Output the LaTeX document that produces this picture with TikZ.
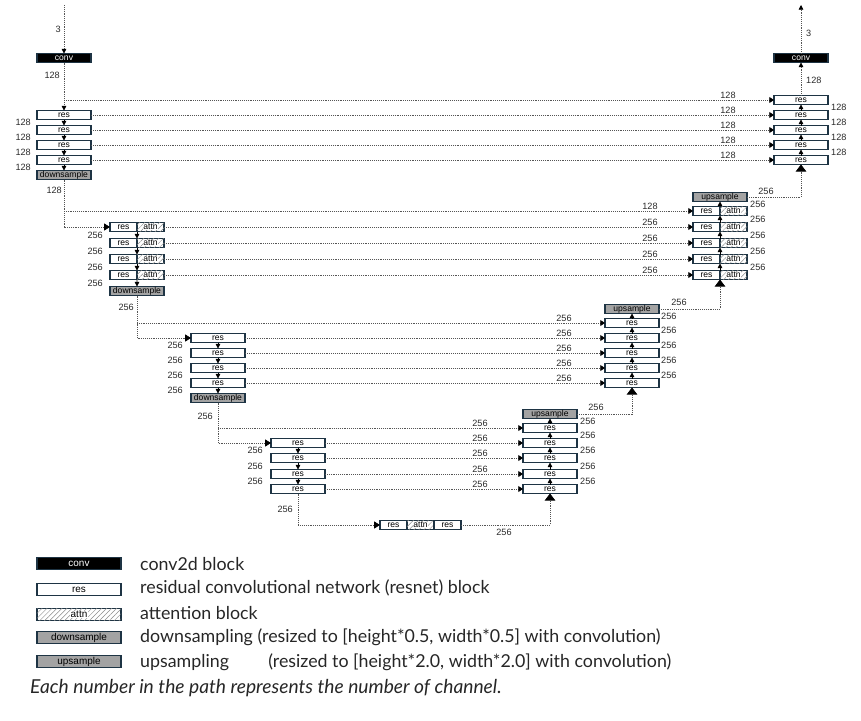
\documentclass[tikz,border=0pt]{standalone}
\usepackage{fontspec}
\setmainfont{Liberation Sans}
\newfontfamily\keyfont{Lato}
\usetikzlibrary{arrows.meta,positioning,patterns.meta}
\definecolor{UNetEdge}{HTML}{1E3444}
\definecolor{UNetLine}{HTML}{555555}
\definecolor{UNetGray}{HTML}{A3A3A3}
\definecolor{UNetHatch}{HTML}{8C8C8C}
\definecolor{UNetText}{HTML}{2A2A2A}
\newcommand{\hatched}[1]{{\setlength{\fboxsep}{0.4pt}\colorbox{white}{#1}}}
\tikzset{
  unetblk/.style={
    draw=UNetEdge,
    line width=1.1pt,
    inner sep=0pt,
    outer sep=0pt,
    minimum width=1.62cm,
    minimum height=0.27cm,
    font=\fontsize{7.3}{7}\selectfont
  },
  convblk/.style={unetblk,fill=black,text=white},
  resblk/.style={unetblk,fill=white},
  attnblk/.style={unetblk,fill=white,minimum width=0.81cm,
    postaction={pattern={Lines[angle=45,distance=3pt,line width=0.4pt]},pattern color=UNetHatch}},
  sampblk/.style={unetblk,fill=UNetGray},
  halfblk/.style={minimum width=0.81cm},
  keyblk/.style={minimum width=2.52cm,minimum height=0.36cm,font=\fontsize{8.5}{8.5}\selectfont},
  chan/.style={inner sep=0pt,font=\fontsize{7.8}{8}\selectfont,text=UNetText},
  keytext/.style={anchor=west,inner sep=0pt,font=\keyfont\fontsize{15.2}{17}\selectfont,text=black!85},
  flowlink/.style={densely dotted,draw=UNetLine,line width=0.6pt},
  smalltip/.style={-{Triangle[width=4pt,length=4pt,color=black]}},
  entrytip/.style={-{Triangle[width=6pt,length=5pt,color=black]}},
  skiplink/.style={flowlink,-{Triangle[width=5pt,length=4pt,color=black]}},
  bigtip/.style={flowlink,-{Triangle[width=9pt,length=6pt,color=black]}},
  stackflow/.style={-{Triangle[width=4pt,length=4pt]},draw=black,line width=0.6pt}
}

\begin{document}
\begin{tikzpicture}[x=0.03cm,y=-0.03cm]
  \useasboundingbox (0,0) rectangle (861,720);

  % encoder, level 1
  \coordinate (src) at (64,5);
  \node[convblk] (encconv) at (64,58) {conv};
  \node[resblk] (e1r1) at (64,115) {res};
  \node[resblk] (e1r2) at (64,130) {res};
  \node[resblk] (e1r3) at (64,145) {res};
  \node[resblk] (e1r4) at (64,160) {res};
  \node[sampblk] (e1down) at (64,175) {downsample};
  \coordinate (e1tap) at (64,100);

  % decoder, level 1
  \coordinate (dst) at (801,5);
  \node[convblk] (decconv) at (801,58) {conv};
  \node[resblk] (d1r0) at (801,100) {res};
  \node[resblk] (d1r1) at (801,115) {res};
  \node[resblk] (d1r2) at (801,130) {res};
  \node[resblk] (d1r3) at (801,145) {res};
  \node[resblk] (d1r4) at (801,160) {res};

  % encoder, level 2
  \node[resblk,halfblk] (e2r1) at (123.5,227) {res};
  \node[attnblk,right=0pt of e2r1] (e2a1) {\hatched{attn}};
  \node[resblk,halfblk] (e2r2) at (123.5,243) {res};
  \node[attnblk,right=0pt of e2r2] (e2a2) {\hatched{attn}};
  \node[resblk,halfblk] (e2r3) at (123.5,259) {res};
  \node[attnblk,right=0pt of e2r3] (e2a3) {\hatched{attn}};
  \node[resblk,halfblk] (e2r4) at (123.5,275) {res};
  \node[attnblk,right=0pt of e2r4] (e2a4) {\hatched{attn}};
  \node[sampblk] (e2down) at (137,291) {downsample};
  \coordinate (e2tap) at (64,211);

  % decoder, level 2
  \node[sampblk] (d2up) at (720,197) {upsample};
  \node[resblk,halfblk] (d2r0) at (706.5,211) {res};
  \node[attnblk,right=0pt of d2r0] (d2a0) {\hatched{attn}};
  \node[resblk,halfblk] (d2r1) at (706.5,227) {res};
  \node[attnblk,right=0pt of d2r1] (d2a1) {\hatched{attn}};
  \node[resblk,halfblk] (d2r2) at (706.5,243) {res};
  \node[attnblk,right=0pt of d2r2] (d2a2) {\hatched{attn}};
  \node[resblk,halfblk] (d2r3) at (706.5,259) {res};
  \node[attnblk,right=0pt of d2r3] (d2a3) {\hatched{attn}};
  \node[resblk,halfblk] (d2r4) at (706.5,275) {res};
  \node[attnblk,right=0pt of d2r4] (d2a4) {\hatched{attn}};

  % encoder, level 3
  \node[resblk] (e3r1) at (218,338) {res};
  \node[resblk] (e3r2) at (218,353) {res};
  \node[resblk] (e3r3) at (218,368) {res};
  \node[resblk] (e3r4) at (218,383) {res};
  \node[sampblk] (e3down) at (218,398) {downsample};
  \coordinate (e3tap) at (137,323);

  % decoder, level 3
  \node[sampblk] (d3up) at (632,309) {upsample};
  \node[resblk] (d3r0) at (632,323) {res};
  \node[resblk] (d3r1) at (632,338) {res};
  \node[resblk] (d3r2) at (632,353) {res};
  \node[resblk] (d3r3) at (632,368) {res};
  \node[resblk] (d3r4) at (632,383) {res};

  % encoder, level 4
  \node[resblk] (e4r1) at (298,443) {res};
  \node[resblk] (e4r2) at (298,458) {res};
  \node[resblk] (e4r3) at (298,474) {res};
  \node[resblk] (e4r4) at (298,489) {res};
  \coordinate (e4tap) at (218,428);

  % decoder, level 4
  \node[sampblk] (d4up) at (550,414) {upsample};
  \node[resblk] (d4r0) at (550,428) {res};
  \node[resblk] (d4r1) at (550,443) {res};
  \node[resblk] (d4r2) at (550,458) {res};
  \node[resblk] (d4r3) at (550,474) {res};
  \node[resblk] (d4r4) at (550,489) {res};

  % bottleneck
  \node[resblk,halfblk] (midr1) at (393.5,525) {res};
  \node[attnblk,right=0pt of midr1] (mida) {\hatched{attn}};
  \node[resblk,halfblk,right=0pt of mida] (midr2) {res};

  % down path
  \draw[flowlink,smalltip] (src) -- (encconv);
  \draw[flowlink,smalltip] (encconv) -- (e1r1);
  \draw[stackflow] (e1r1) -- (e1r2);
  \draw[stackflow] (e1r2) -- (e1r3);
  \draw[stackflow] (e1r3) -- (e1r4);
  \draw[stackflow] (e1r4) -- (e1down);
  \draw[flowlink,entrytip] (e1down) |- (e2r1);
  \draw[stackflow] (e2r1.south east) -- (e2r2.north east);
  \draw[stackflow] (e2r2.south east) -- (e2r3.north east);
  \draw[stackflow] (e2r3.south east) -- (e2r4.north east);
  \draw[stackflow] (e2r4.south east) -- (e2down);
  \draw[flowlink,entrytip] (e2down) |- (e3r1);
  \draw[stackflow] (e3r1) -- (e3r2);
  \draw[stackflow] (e3r2) -- (e3r3);
  \draw[stackflow] (e3r3) -- (e3r4);
  \draw[stackflow] (e3r4) -- (e3down);
  \draw[flowlink,entrytip] (e3down) |- (e4r1);
  \draw[stackflow] (e4r1) -- (e4r2);
  \draw[stackflow] (e4r2) -- (e4r3);
  \draw[stackflow] (e4r3) -- (e4r4);
  \draw[flowlink,entrytip] (e4r4) |- (midr1);

  % up path
  \draw[bigtip] (midr2) -| (d4r4);
  \draw[stackflow] (d4r4) -- (d4r3);
  \draw[stackflow] (d4r3) -- (d4r2);
  \draw[stackflow] (d4r2) -- (d4r1);
  \draw[stackflow] (d4r1) -- (d4r0);
  \draw[stackflow] (d4r0) -- (d4up);
  \draw[bigtip] (d4up) -| (d3r4);
  \draw[stackflow] (d3r4) -- (d3r3);
  \draw[stackflow] (d3r3) -- (d3r2);
  \draw[stackflow] (d3r2) -- (d3r1);
  \draw[stackflow] (d3r1) -- (d3r0);
  \draw[stackflow] (d3r0) -- (d3up);
  \draw[bigtip] (d3up) -| (d2r4.south east);
  \draw[stackflow] (d2r4.north east) -- (d2r3.south east);
  \draw[stackflow] (d2r3.north east) -- (d2r2.south east);
  \draw[stackflow] (d2r2.north east) -- (d2r1.south east);
  \draw[stackflow] (d2r1.north east) -- (d2r0.south east);
  \draw[stackflow] (d2r0.north east) -- (d2up);
  \draw[bigtip] (d2up) -| (d1r4);
  \draw[stackflow] (d1r4) -- (d1r3);
  \draw[stackflow] (d1r3) -- (d1r2);
  \draw[stackflow] (d1r2) -- (d1r1);
  \draw[stackflow] (d1r1) -- (d1r0);
  \draw[flowlink,smalltip] (d1r0) -- (decconv);
  \draw[flowlink,smalltip] (decconv) -- (dst);

  % skip connections
  \draw[skiplink] (e1tap) -- (d1r0);
  \draw[skiplink] (e1r1) -- (d1r1);
  \draw[skiplink] (e1r2) -- (d1r2);
  \draw[skiplink] (e1r3) -- (d1r3);
  \draw[skiplink] (e1r4) -- (d1r4);
  \draw[skiplink] (e2tap) -- (d2r0);
  \draw[skiplink] (e2a1) -- (d2r1);
  \draw[skiplink] (e2a2) -- (d2r2);
  \draw[skiplink] (e2a3) -- (d2r3);
  \draw[skiplink] (e2a4) -- (d2r4);
  \draw[skiplink] (e3tap) -- (d3r0);
  \draw[skiplink] (e3r1) -- (d3r1);
  \draw[skiplink] (e3r2) -- (d3r2);
  \draw[skiplink] (e3r3) -- (d3r3);
  \draw[skiplink] (e3r4) -- (d3r4);
  \draw[skiplink] (e4tap) -- (d4r0);
  \draw[skiplink] (e4r1) -- (d4r1);
  \draw[skiplink] (e4r2) -- (d4r2);
  \draw[skiplink] (e4r3) -- (d4r3);
  \draw[skiplink] (e4r4) -- (d4r4);

  % channel counts, encoder side
  \node[chan,anchor=east] (cin) at (61,29) {3};
  \node[chan,anchor=east] (c1a) at (60,75) {128};
  \node[chan,anchor=east] (c1b) at (31,122.5) {128};
  \node[chan,anchor=east] (c1c) at (31,137.5) {128};
  \node[chan,anchor=east] (c1d) at (31,152.5) {128};
  \node[chan,anchor=east] (c1e) at (31,167.5) {128};
  \node[chan,anchor=east] (c1f) at (62,190) {128};
  \node[chan,anchor=east] (c2a) at (103,235) {256};
  \node[chan,anchor=east] (c2b) at (103,251) {256};
  \node[chan,anchor=east] (c2c) at (103,267) {256};
  \node[chan,anchor=east] (c2d) at (103,283) {256};
  \node[chan,anchor=east] (c2e) at (134,307) {256};
  \node[chan,anchor=east] (c3a) at (183,345.5) {256};
  \node[chan,anchor=east] (c3b) at (183,360.5) {256};
  \node[chan,anchor=east] (c3c) at (183,375.5) {256};
  \node[chan,anchor=east] (c3d) at (183,390.5) {256};
  \node[chan,anchor=east] (c3e) at (213,416) {256};
  \node[chan,anchor=east] (c4a) at (263,450.5) {256};
  \node[chan,anchor=east] (c4b) at (263,466) {256};
  \node[chan,anchor=east] (c4c) at (263,481.5) {256};
  \node[chan,anchor=east] (c4d) at (293,509) {256};
  \node[chan] (cmid) at (504,532) {256};

  % channel counts, skip lines
  \node[chan] (s1a) at (728,95) {128};
  \node[chan] (s1b) at (728,110) {128};
  \node[chan] (s1c) at (728,125) {128};
  \node[chan] (s1d) at (728,140) {128};
  \node[chan] (s1e) at (728,155) {128};
  \node[chan] (s2a) at (650,206) {128};
  \node[chan] (s2b) at (650,222) {256};
  \node[chan] (s2c) at (650,238) {256};
  \node[chan] (s2d) at (650,254) {256};
  \node[chan] (s2e) at (650,270) {256};
  \node[chan] (s3a) at (564,318) {256};
  \node[chan] (s3b) at (564,333) {256};
  \node[chan] (s3c) at (564,348) {256};
  \node[chan] (s3d) at (564,363) {256};
  \node[chan] (s3e) at (564,378) {256};
  \node[chan] (s4a) at (480,423) {256};
  \node[chan] (s4b) at (480,438) {256};
  \node[chan] (s4c) at (480,453) {256};
  \node[chan] (s4d) at (480,469) {256};
  \node[chan] (s4e) at (480,484) {256};

  % channel counts, decoder side
  \node[chan,anchor=west] (cout) at (806,33) {3};
  \node[chan,anchor=west] (u1a) at (806,80) {128};
  \node[chan,anchor=west] (u1b) at (831,107.5) {128};
  \node[chan,anchor=west] (u1c) at (831,122.5) {128};
  \node[chan,anchor=west] (u1d) at (831,137.5) {128};
  \node[chan,anchor=west] (u1e) at (831,152.5) {128};
  \node[chan] (u2up) at (766,191) {256};
  \node[chan,anchor=west] (u2a) at (750,204) {256};
  \node[chan,anchor=west] (u2b) at (750,219) {256};
  \node[chan,anchor=west] (u2c) at (750,235) {256};
  \node[chan,anchor=west] (u2d) at (750,251) {256};
  \node[chan,anchor=west] (u2e) at (750,267) {256};
  \node[chan] (u3up) at (679,302) {256};
  \node[chan,anchor=west] (u3a) at (661,316) {256};
  \node[chan,anchor=west] (u3b) at (661,330.5) {256};
  \node[chan,anchor=west] (u3c) at (661,345.5) {256};
  \node[chan,anchor=west] (u3d) at (661,360.5) {256};
  \node[chan,anchor=west] (u3e) at (661,375.5) {256};
  \node[chan] (u4up) at (596,407) {256};
  \node[chan,anchor=west] (u4a) at (580,421) {256};
  \node[chan,anchor=west] (u4b) at (580,435.5) {256};
  \node[chan,anchor=west] (u4c) at (580,450.5) {256};
  \node[chan,anchor=west] (u4d) at (580,466) {256};
  \node[chan,anchor=west] (u4e) at (580,481.5) {256};

  % legend
  \node[convblk,keyblk] (kconv) at (79,563.5) {conv};
  \node[resblk,keyblk] (kres) at (79,589.5) {res};
  \node[attnblk,keyblk] (kattn) at (79,614.5) {\hatched{attn}};
  \node[sampblk,keyblk] (kdown) at (79,637.5) {downsample};
  \node[sampblk,keyblk] (kup) at (79,661.5) {upsample};
  \node[keytext] (tconv) at (140,564) {conv2d block};
  \node[keytext] (tres) at (140,588) {residual convolutional network (resnet) block};
  \node[keytext] (tattn) at (140,613) {attention block};
  \node[keytext] (tdown) at (140,637) {downsampling (resized to [height*0.5, width*0.5] with convolution)};
  \node[keytext] (tup) at (140,662) {\makebox[3.84cm][l]{upsampling}(resized to [height*2.0, width*2.0] with convolution)};
  \node[keytext,font=\keyfont\itshape\fontsize{16.4}{18}\selectfont] (tnote) at (30,688) {Each number in the path represents the number of channel.};
\end{tikzpicture}
\end{document}
